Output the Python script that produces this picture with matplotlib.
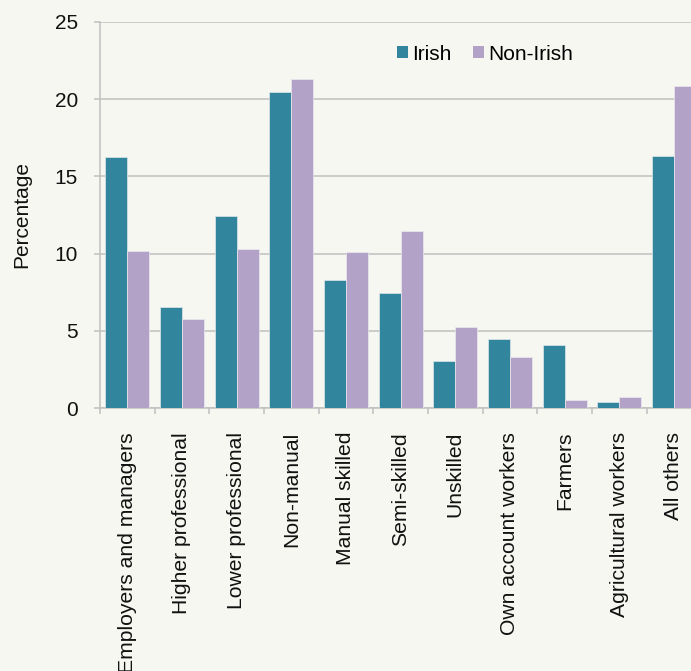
import matplotlib
matplotlib.use("Agg")
import matplotlib.pyplot as plt
from matplotlib.patches import Patch
import numpy as np

# Datos
categorias = ["Employers and managers", "Higher professional", "Lower professional",
              "Non-manual", "Manual skilled", "Semi-skilled", "Unskilled",
              "Own account workers", "Farmers", "Agricultural workers", "All others"]
irish = [16.25, 6.55, 12.45, 20.45, 8.3, 7.45, 3.07, 4.47, 4.1, 0.43, 16.3]
non_irish = [10.15, 5.77, 10.3, 21.28, 10.1, 11.48, 5.25, 3.3, 0.54, 0.75, 20.87]
series = ["Irish", "Non-Irish"]
y_ticks = [0, 5, 10, 15, 20, 25]

color_irish = "#31859c"
color_non = "#b3a2c7"
bg = "#f7f7f1"
grid_col = "#c0c0c0"

plt.rcParams["font.family"] = ["Liberation Sans", "DejaVu Sans"]

fig = plt.figure(figsize=(6.91, 6.71), dpi=100, facecolor=bg)
# el eje se sale ligeramente por la derecha, como en la referencia
ax = fig.add_axes([100 / 691, 1 - 408.3 / 671, 601.3 / 691, 386.6 / 671])
ax.set_facecolor(bg)

x = np.arange(len(categorias))
w = 0.4
ax.bar(x - w / 2, irish, width=w, color=color_irish, edgecolor="#dfe8ea", linewidth=0.5, zorder=3)
ax.bar(x + w / 2, non_irish, width=w, color=color_non, edgecolor="#ece8f0", linewidth=0.5, zorder=3)

ax.set_xlim(-0.5, len(categorias) - 0.5)
ax.set_ylim(0, 25)
ax.set_yticks(y_ticks)
ax.yaxis.grid(True, color=grid_col, linewidth=1.1, zorder=0)

for s in ["top", "right"]:
    ax.spines[s].set_visible(False)
for s in ["left", "bottom"]:
    ax.spines[s].set_color(grid_col)
    ax.spines[s].set_linewidth(1.1)

ax.set_xticks(x)
ax.set_xticklabels(categorias, rotation=90, va="top", ha="center")
ax.set_xticks(np.arange(-0.5, len(categorias), 1.0), minor=True)
ax.tick_params(axis="x", which="major", length=0, pad=17, labelsize=15.2, colors="#111111")
ax.tick_params(axis="x", which="minor", length=4, width=1.1, color=grid_col)
ax.tick_params(axis="y", length=4, width=1.1, color=grid_col, labelsize=15, labelcolor="#111111", pad=12)

ax.set_ylabel("Percentage", fontsize=15, color="#111111", labelpad=17)

handles = [Patch(facecolor=color_irish, edgecolor="none", label=series[0]),
           Patch(facecolor=color_non, edgecolor="none", label=series[1])]
fig.legend(handles=handles, loc="center left", bbox_to_anchor=(397 / 691, 1 - 54 / 671),
           ncol=2, frameon=False, fontsize=15, handlelength=0.55, handleheight=0.55,
           handletextpad=0.2, columnspacing=1.0, borderpad=0, borderaxespad=0)

fig.savefig("out.png", dpi=100, facecolor=bg)
